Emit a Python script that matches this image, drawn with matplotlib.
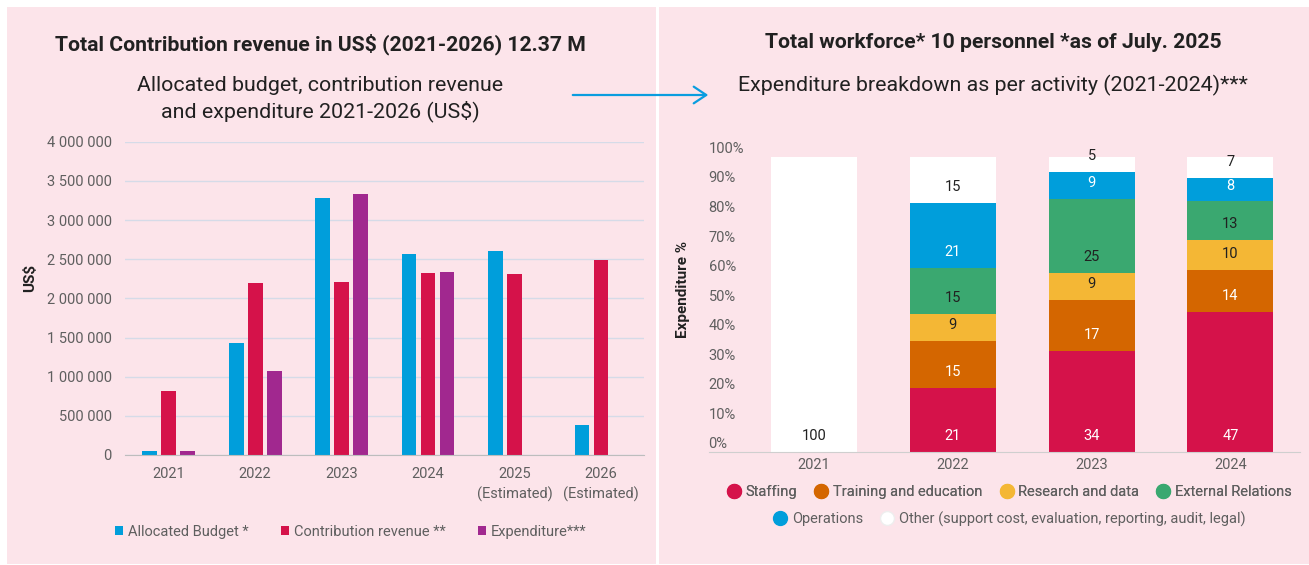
import numpy as np
import matplotlib.pyplot as plt
from matplotlib.patches import Rectangle, Patch, FancyArrowPatch
from matplotlib.lines import Line2D
from matplotlib.transforms import blended_transform_factory

plt.rcParams['font.family'] = ['Roboto', 'DejaVu Sans']

# left chart data (US$)
years_left = ['2021', '2022', '2023', '2024', '2025\n(Estimated)', '2026\n(Estimated)']
allocated_budget = [50000, 1435000, 3285000, 2565000, 2610000, 385000]
contribution_revenue = [820000, 2190000, 2205000, 2320000, 2315000, 2495000]
expenditure = [50000, 1070000, 3335000, 2335000, 0, 0]
left_series = ['Allocated Budget *', 'Contribution revenue **', 'Expenditure***']
left_colors = ['#009EDB', '#D5124A', '#A1288F']
left_ticks = [0, 500000, 1000000, 1500000, 2000000, 2500000, 3000000, 3500000, 4000000]

# right chart data (% of expenditure per activity)
years_right = ['2021', '2022', '2023', '2024']
activities = ['Staffing', 'Training and education', 'Research and data', 'External Relations',
              'Operations', 'Other (support cost, evaluation, reporting, audit, legal)']
staffing = [0, 21, 34, 47]
training = [0, 15, 17, 14]
research = [0, 9, 9, 10]
external = [0, 15, 25, 13]
operations = [0, 21, 9, 8]
other = [100, 15, 5, 7]
act_colors = ['#D5124A', '#D46600', '#F4B735', '#3AA870', '#009EDB', '#FFFFFF']
label_colors = ['white', 'white', '#212121', '#212121', 'white', '#212121']
right_ticks = [0, 10, 20, 30, 40, 50, 60, 70, 80, 90, 100]

W, H = 1309, 565
fig = plt.figure(figsize=(W / 100, H / 100), dpi=100, facecolor='white')

pink = '#FCE4EA'
fig.patches.append(Rectangle((7 / W, 1 - 564 / H), 649 / W, 557 / H, transform=fig.transFigure,
                             facecolor=pink, edgecolor='none', zorder=-10))
fig.patches.append(Rectangle((659 / W, 1 - 564 / H), 650 / W, 557 / H, transform=fig.transFigure,
                             facecolor=pink, edgecolor='none', zorder=-10))

dark = '#212121'
gray = '#5F5F5F'

# titles
fig.text(320 / W, 1 - 44 / H, 'Total Contribution revenue in US$ (2021-2026) 12.37 M',
         ha='center', va='center', fontsize=15.2, fontweight='bold', color=dark)
fig.text(320 / W, 1 - 99 / H, 'Allocated budget, contribution revenue\nand expenditure 2021-2026 (US$)',
         ha='center', va='center', fontsize=15.4, color=dark, linespacing=1.27)
fig.text(993 / W, 1 - 43 / H, 'Total workforce* 10 personnel *as of July. 2025',
         ha='center', va='center', fontsize=15.2, fontweight='bold', color=dark)
fig.text(993 / W, 1 - 85 / H, 'Expenditure breakdown as per activity (2021-2024)***',
         ha='center', va='center', fontsize=15.4, color=dark)

# connecting arrow
fig.patches.append(FancyArrowPatch((570 / W, 1 - 95 / H), (711 / W, 1 - 95 / H),
                                   transform=fig.transFigure, arrowstyle='->,head_length=6,head_width=4',
                                   color='#0A9DDF', lw=1.6, mutation_scale=1.5))

# ---- left chart ----
ax1 = fig.add_axes([125.4 / W, 1 - 455 / H, 518.8 / W, 313.3 / H])
ax1.set_facecolor('none')
x = np.arange(len(years_left))
bw = 0.172
off = 0.22
for i, (vals, c, name) in enumerate(zip([allocated_budget, contribution_revenue, expenditure],
                                        left_colors, left_series)):
    ax1.bar(x + (i - 1) * off, vals, width=bw, color=c, label=name, zorder=3)
ax1.set_xlim(-0.5, len(years_left) - 0.5)
ax1.set_ylim(0, 4000000)
ax1.set_yticks(left_ticks)
ax1.set_yticklabels([f'{v:,}'.replace(',', ' ') for v in left_ticks])
ax1.set_xticks(x)
ax1.set_xticklabels(years_left, linespacing=1.4)
ax1.tick_params(axis='both', length=0, labelsize=10.5, labelcolor=gray)
ax1.tick_params(axis='y', pad=10)
ax1.tick_params(axis='x', pad=9)
for lab in ax1.get_xticklabels():
    lab.set_verticalalignment('top')
ax1.grid(axis='y', color='#D5DBE8', lw=1, zorder=0)
for s in ['top', 'right', 'left']:
    ax1.spines[s].set_visible(False)
ax1.spines['bottom'].set_color('#BDBDBD')
ax1.spines['bottom'].set_zorder(4)
fig.text(30 / W, 1 - 278 / H, 'US$', rotation=90, ha='center', va='center',
         fontsize=11, fontweight='bold', color=dark)

handles = [Patch(facecolor=c, edgecolor='none') for c in left_colors]
fig.legend(handles, left_series, loc='center', bbox_to_anchor=(351 / W, 1 - 532 / H), ncol=3,
           frameon=False, fontsize=10.5, labelcolor=gray, handlelength=0.55, handleheight=0.55,
           handletextpad=0.35, columnspacing=2.2)

# ---- right chart ----
ax2 = fig.add_axes([708.5 / W, 1 - 452.3 / H, 591.5 / W, 295.6 / H])
ax2.set_facecolor('none')
xr = np.arange(len(years_right))
series = np.array([staffing, training, research, external, operations, other], dtype=float)
totals = series.sum(axis=0)
pct = series / totals * 100
bottom = np.zeros(len(years_right))
for k in range(len(activities)):
    ax2.bar(xr, pct[k], bottom=bottom, width=0.62, color=act_colors[k], label=activities[k], zorder=3)
    for j in range(len(years_right)):
        if series[k, j] > 0:
            ax2.annotate(f'{int(series[k, j])}', (xr[j], bottom[j]), xytext=(0, 11.5),
                         textcoords='offset points', ha='center', va='center',
                         fontsize=10.5, color=label_colors[k], zorder=5)
    bottom += pct[k]
ax2.set_xlim(-0.76, 3.502)
ax2.set_ylim(0, 100)
ax2.set_yticks([])
trans = blended_transform_factory(ax2.transAxes, ax2.transData)
for v in right_ticks:
    ax2.annotate(f'{v}%', (0, v), xycoords=trans, xytext=(0, 0.6), textcoords='offset points',
                 ha='left', va='bottom', fontsize=10.5, color=gray)
ax2.set_xticks(xr)
ax2.set_xticklabels(years_right)
ax2.tick_params(axis='both', length=0, labelsize=10.5, labelcolor=gray)
ax2.tick_params(axis='x', pad=4)
for s in ['top', 'right', 'left']:
    ax2.spines[s].set_visible(False)
ax2.spines['bottom'].set_color('#CFCFCF')
ax2.spines['bottom'].set_zorder(4)
fig.text(683 / W, 1 - 290 / H, 'Expenditure %', rotation=90, ha='center', va='center',
         fontsize=11, fontweight='bold', color=dark)

dots = [Line2D([], [], ls='none', marker='o', markersize=10, markerfacecolor=c,
               markeredgecolor='#EEEEEE' if c == '#FFFFFF' else c) for c in act_colors]
leg1 = fig.legend(dots[:4], activities[:4], loc='center', bbox_to_anchor=(1010 / W, 1 - 492 / H),
                  ncol=4, frameon=False, fontsize=10.5, labelcolor=gray, handlelength=0.8,
                  handletextpad=0.4, columnspacing=1.25)
fig.legend(dots[4:], activities[4:], loc='center', bbox_to_anchor=(1010 / W, 1 - 519 / H),
           ncol=2, frameon=False, fontsize=10.5, labelcolor=gray, handlelength=0.8,
           handletextpad=0.4, columnspacing=1.25)
fig.add_artist(leg1)

fig.savefig('out.png', dpi=100, facecolor='white')
